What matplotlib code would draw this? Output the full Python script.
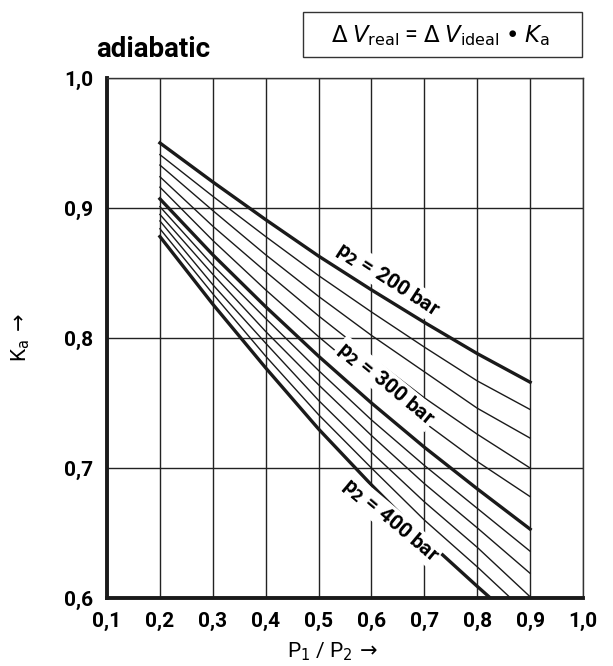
import matplotlib
matplotlib.use("Agg")
import matplotlib.pyplot as plt
from matplotlib.patches import Rectangle

plt.rcParams['font.family'] = ['Roboto', 'DejaVu Sans']
plt.rcParams['mathtext.fontset'] = 'dejavusans'

# pressure ratio P1/P2
ratio = [0.2, 0.3, 0.4, 0.5, 0.6, 0.7, 0.8, 0.9]

# K_a, one list per p2 (bar)
ka_200 = [0.950, 0.920, 0.891, 0.863, 0.837, 0.812, 0.788, 0.766]
ka_220 = [0.941, 0.909, 0.878, 0.848, 0.820, 0.793, 0.767, 0.745]
ka_240 = [0.933, 0.898, 0.864, 0.832, 0.802, 0.774, 0.746, 0.723]
ka_260 = [0.924, 0.886, 0.851, 0.817, 0.785, 0.754, 0.726, 0.700]
ka_280 = [0.916, 0.875, 0.837, 0.801, 0.767, 0.735, 0.705, 0.678]
ka_300 = [0.907, 0.864, 0.824, 0.786, 0.750, 0.716, 0.684, 0.653]
ka_320 = [0.901, 0.856, 0.815, 0.775, 0.737, 0.702, 0.669, 0.636]
ka_340 = [0.895, 0.849, 0.805, 0.764, 0.725, 0.688, 0.654, 0.619]
ka_360 = [0.890, 0.841, 0.796, 0.752, 0.712, 0.674, 0.639, 0.601]
ka_380 = [0.884, 0.834, 0.786, 0.741, 0.700, 0.660, 0.624, 0.586]
ka_400 = [0.878, 0.826, 0.777, 0.730, 0.687, 0.646, 0.609, 0.573]

thick = {"200": ka_200, "300": ka_300, "400": ka_400}
thin = [ka_220, ka_240, ka_260, ka_280, ka_320, ka_340, ka_360, ka_380]

xticks = [0.1, 0.2, 0.3, 0.4, 0.5, 0.6, 0.7, 0.8, 0.9, 1.0]
yticks = [0.6, 0.7, 0.8, 0.9, 1.0]

fig = plt.figure(figsize=(6.13, 6.66), dpi=100)
ax = fig.add_axes([0.1746, 0.102, 0.7765, 0.781])

for k in thin:
    ax.plot(ratio, k, color="#1a1a1a", lw=1.0, zorder=3)
for k in thick.values():
    ax.plot(ratio, k, color="#1a1a1a", lw=2.4, zorder=4)

ax.set_xlim(0.1, 1.0)
ax.set_ylim(0.6, 1.0)
ax.set_xticks(xticks)
ax.set_yticks(yticks)
ax.set_xticklabels([f"{t:.1f}".replace(".", ",") for t in xticks],
                   fontweight="bold", fontsize=15)
ax.set_yticklabels([f"{t:.1f}".replace(".", ",") for t in yticks],
                   fontweight="bold", fontsize=15)
ax.tick_params(axis="x", length=0, pad=10)
ax.tick_params(axis="y", length=0, pad=10)
ax.grid(True, color="#222222", lw=1.0, zorder=1)

for s in ["left", "bottom"]:
    ax.spines[s].set_linewidth(2.8)
    ax.spines[s].set_color("#1a1a1a")
for s in ["top", "right"]:
    ax.spines[s].set_linewidth(1.0)
    ax.spines[s].set_color("#333333")

# curve labels
lbl = dict(fontsize=15, fontweight="bold", ha="center", va="center",
           rotation_mode="anchor", zorder=6,
           bbox=dict(fc="white", ec="none", pad=1.0))
ax.text(0.631, 0.845, "p$_\\mathbf{2}$ = 200 bar", rotation=-33, **lbl)
ax.text(0.627, 0.765, "p$_\\mathbf{2}$ = 300 bar", rotation=-39.5, **lbl)
ax.text(0.636, 0.660, "p$_\\mathbf{2}$ = 400 bar", rotation=-40, **lbl)

ax.set_xlabel("P$_1$ / P$_2$$\\,\\rightarrow$", fontsize=15)
ax.xaxis.set_label_coords(0.475, -0.082)
ax.set_ylabel("K$_\\mathrm{a}$$\\,\\rightarrow$", fontsize=15)
ax.yaxis.set_label_coords(-0.158, 0.5)

fig.text(0.157, 0.925, "adiabatic", fontsize=20, fontweight="bold",
         ha="left", va="center")

fig.patches.append(Rectangle((0.494, 0.9144), 0.455, 0.0676,
                             transform=fig.transFigure, fill=False,
                             ec="#333333", lw=1.0))
fig.text(0.718, 0.947,
         "$\\Delta$ $V_\\mathrm{real}$ = $\\Delta$ $V_\\mathrm{ideal}$ • $K_\\mathrm{a}$",
         fontsize=16.5, ha="center", va="center")

fig.savefig("out.png", dpi=100)
